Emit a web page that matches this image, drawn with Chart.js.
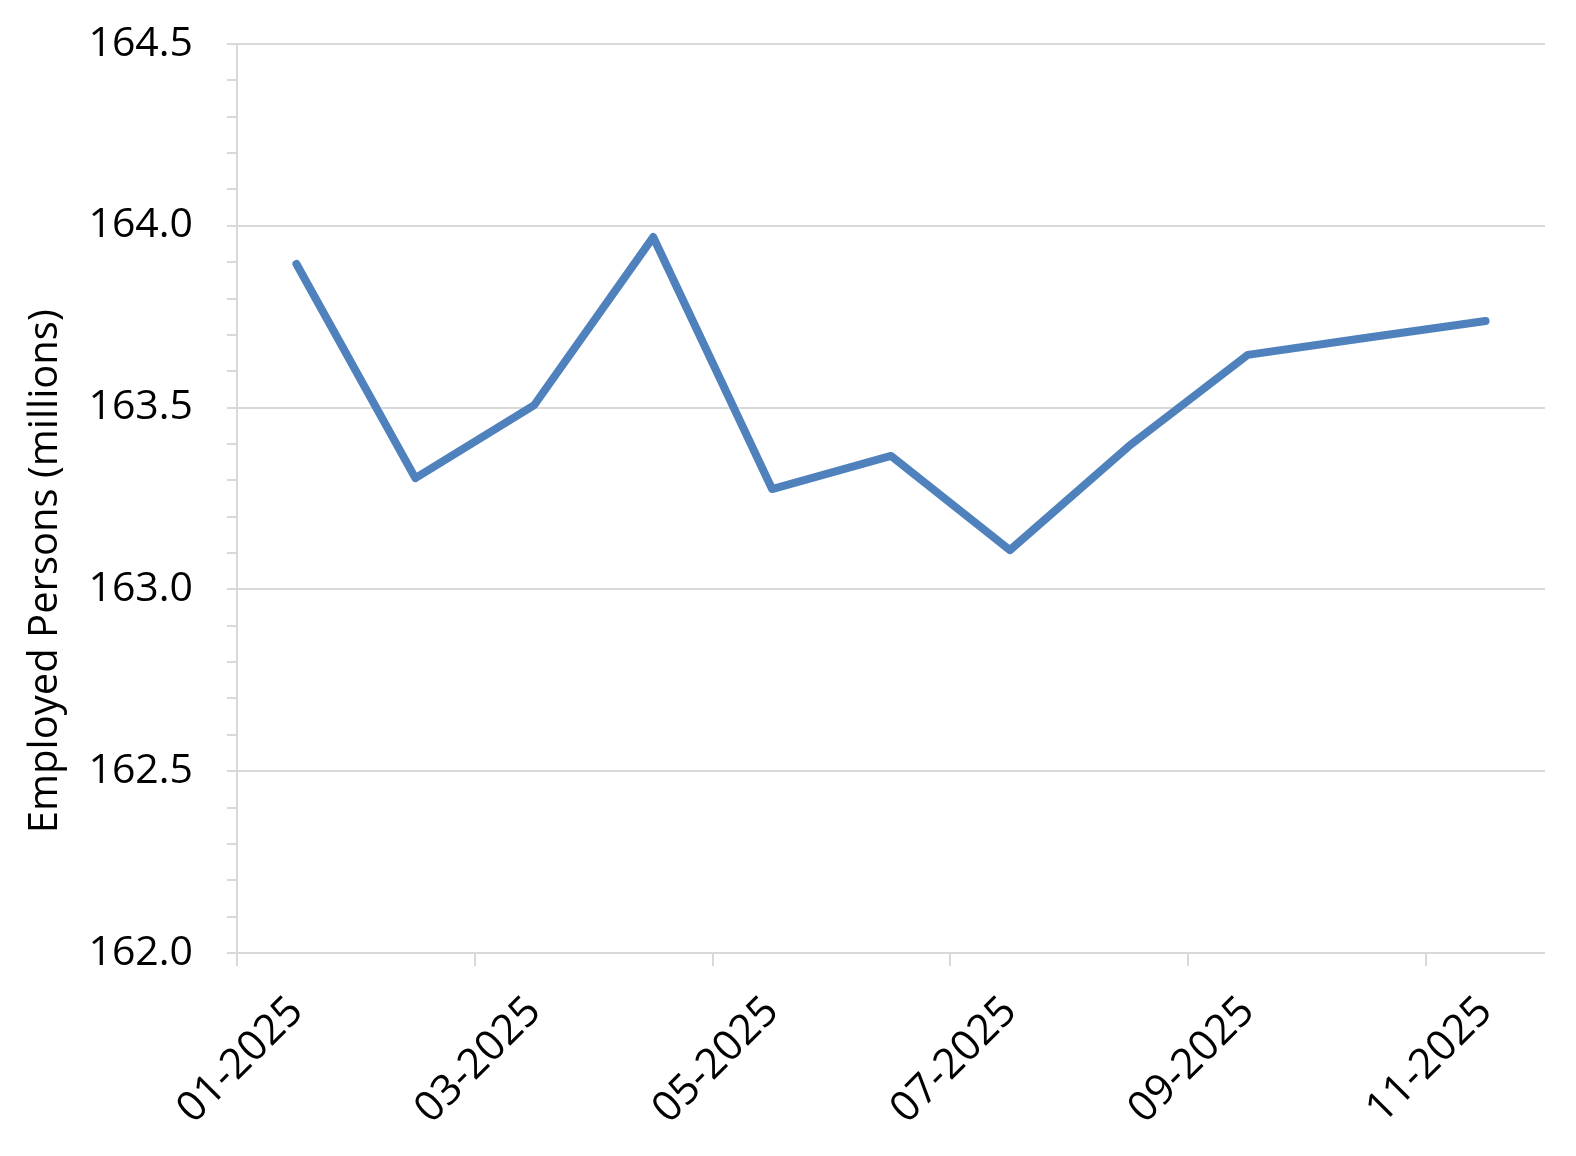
<!DOCTYPE html>
<html>
<head>
<meta charset="utf-8">
<script src="https://cdn.jsdelivr.net/npm/chart.js@4"></script>
<style>
  html, body { margin: 0; padding: 0; background: #fff; }
  #wrap { width: 1576px; height: 1156px; }
</style>
</head>
<body>
<div id="wrap"><canvas id="employed"></canvas></div>
<script>
const months = ['01-2025', '02-2025', '03-2025', '04-2025', '05-2025', '06-2025',
                '07-2025', '08-2025', '09-2025', '10-2025', '11-2025'];
const employed = [163.895, 163.306, 163.507, 163.969, 163.276, 163.367,
                  163.108, 163.394, 163.645, 163.692, 163.738];
const yMin = 162.0;
const yMax = 164.5;
const yTitle = 'Employed Persons (millions)';

const GRID = '#d9d9d9';
const FONT = "'Open Sans', sans-serif";

const CHART = document.getElementById('employed');

let lineChart = new Chart(CHART, {
    type: 'line',
    data: {
        labels: months,
        datasets: [
            {
                data: employed,
                borderColor: '#4f81bd',
                borderWidth: 8,
                borderCapStyle: 'round',
                borderJoinStyle: 'round',
                pointRadius: 0,
                tension: 0
            }
        ]
    },
    options: {
        responsive: true,
        maintainAspectRatio: false,
        animation: false,
        layout: { padding: { top: 44, right: 31, left: 22, bottom: 0 } },
        plugins: { legend: { display: false }, tooltip: { enabled: false } },
        scales: {
            x: {
                offset: true,
                afterFit: (scale) => { scale.height = 203; },
                grid: {
                    offset: true,
                    drawOnChartArea: false,
                    tickLength: 13,
                    lineWidth: 2,
                    color: (ctx) => ctx.index % 2 === 0 ? GRID : 'rgba(0,0,0,0)'
                },
                border: { display: false },
                ticks: {
                    autoSkip: false,
                    maxRotation: 45,
                    minRotation: 45,
                    padding: 21,
                    color: '#000',
                    font: { family: FONT, size: 42 },
                    callback: (val, i) => i % 2 === 0 ? months[i] : ''
                }
            },
            y: {
                min: yMin,
                max: yMax,
                afterFit: (scale) => {
                    scale.width = 215;
                    scale.paddingTop = 0;
                    scale.paddingBottom = 0;
                },
                title: {
                    display: true,
                    // trailing spaces push the centred title down, as in the source
                    text: yTitle + '\u00a0'.repeat(14),
                    color: '#000',
                    font: { family: FONT, size: 40 },
                    padding: { top: 0, bottom: 0 }
                },
                grid: {
                    lineWidth: 2,
                    tickLength: 10,
                    color: (ctx) => ctx.tick && Math.round(ctx.tick.value * 10) % 5 === 0 ? GRID : 'rgba(0,0,0,0)',
                    tickColor: GRID
                },
                border: { color: GRID, width: 2 },
                ticks: {
                    stepSize: 0.1,
                    autoSkip: false,
                    padding: 34,
                    color: '#000',
                    font: { family: FONT, size: 41 },
                    callback: (v) => Math.round(v * 10) % 5 === 0 ? v.toFixed(1) : ''
                }
            }
        }
    }
});
</script>
</body>
</html>
